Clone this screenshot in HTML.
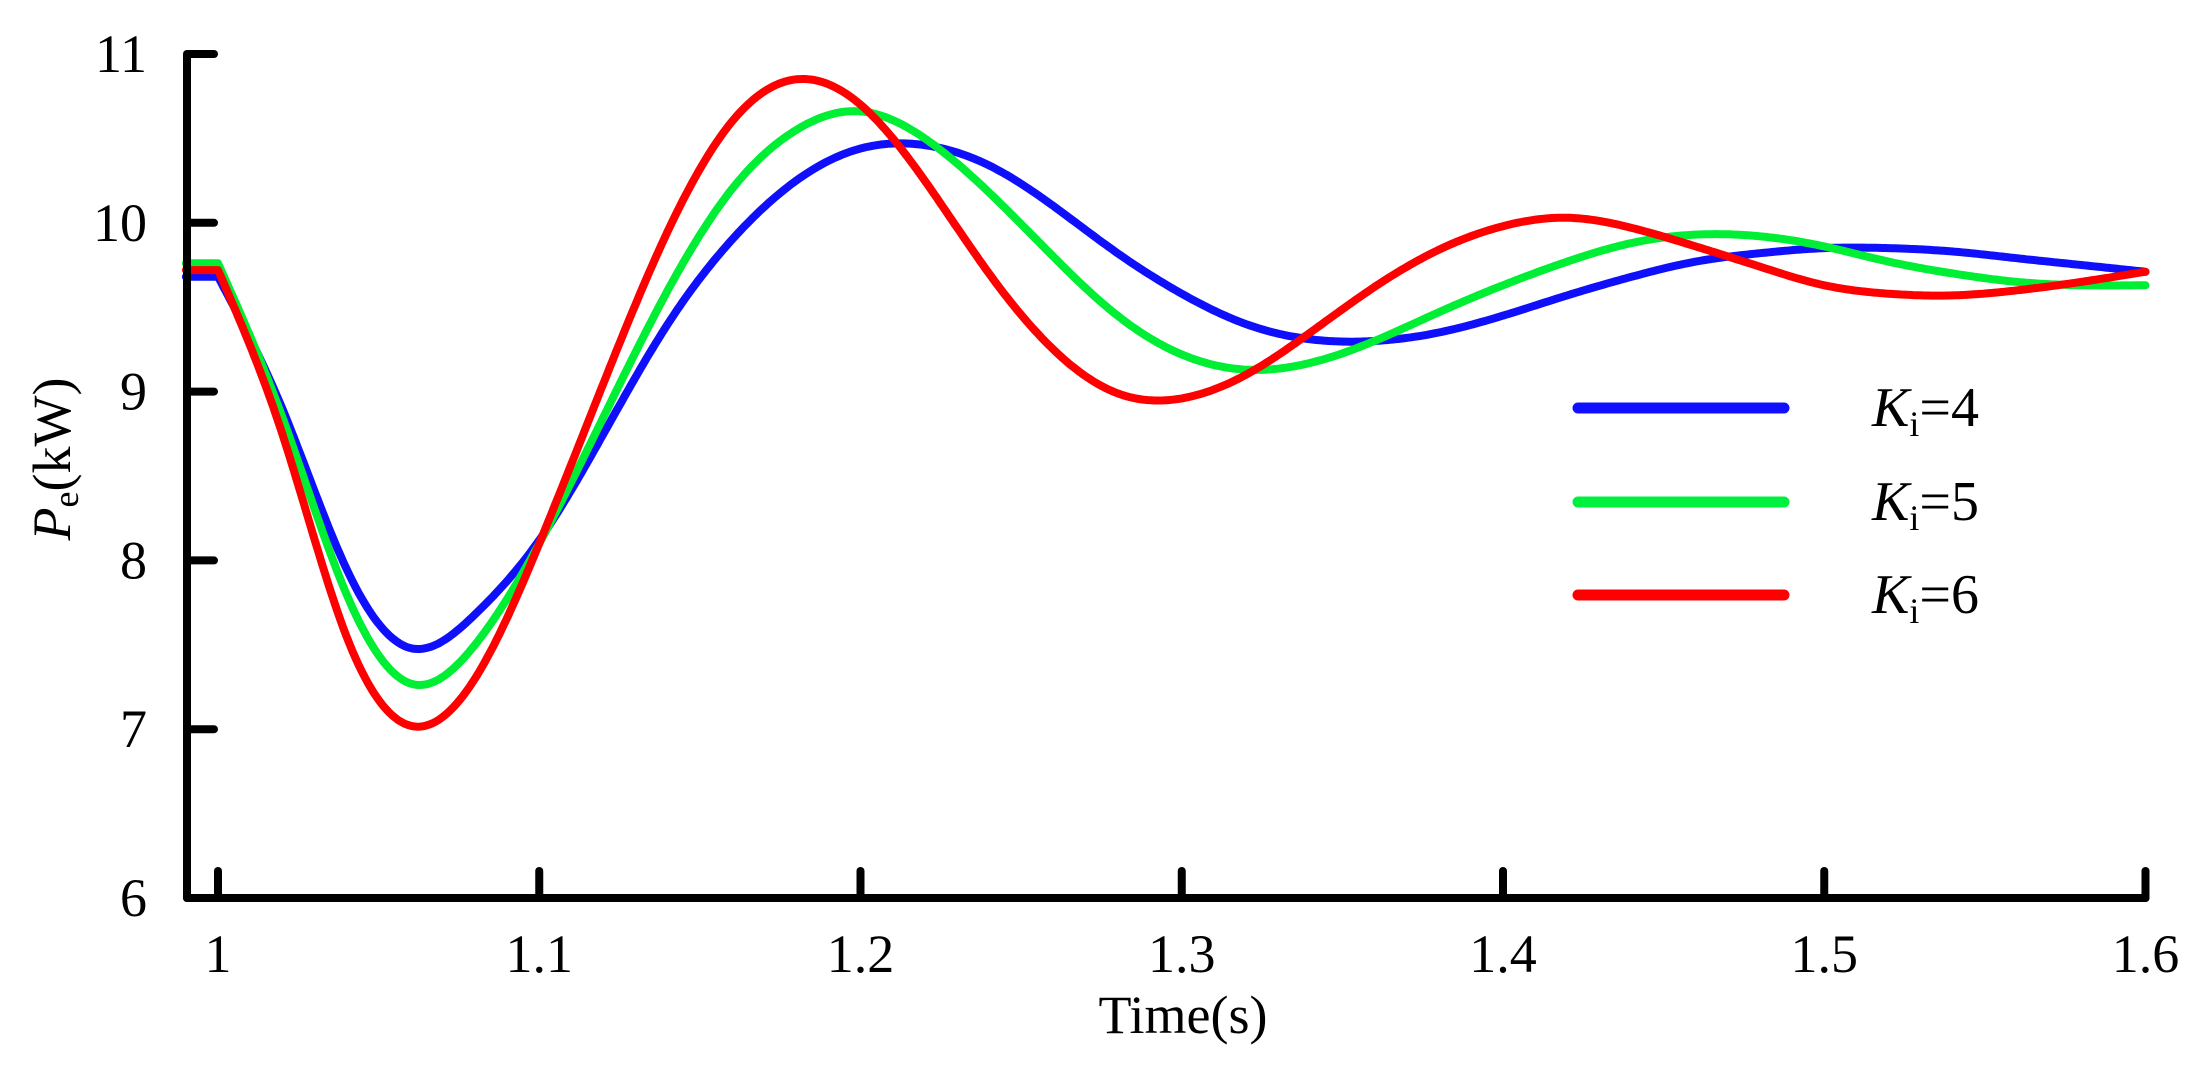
<!DOCTYPE html>
<html><head><meta charset="utf-8"><style>
html,body{margin:0;padding:0;background:#fff}
svg{display:block}
text{font-family:"Liberation Serif",serif;fill:#000}
</style></head><body>
<svg id="chart" width="2201" height="1065" viewBox="0 0 2201 1065" xmlns="http://www.w3.org/2000/svg">
<g id="series"></g>
<g id="axes"></g>
<g id="legend"></g>
</svg>
<script>
const xTicks = [1, 1.1, 1.2, 1.3, 1.4, 1.5, 1.6];
const xTickLabels = ["1", "1.1", "1.2", "1.3", "1.4", "1.5", "1.6"];
const yTicks = [6, 7, 8, 9, 10, 11];
const yTickLabels = ["6", "7", "8", "9", "10", "11"];
const seriesNames = ["4", "5", "6"];
const tBlue = [0.99,1.0,1.02,1.04,1.06,1.08,1.10,1.12,1.14,1.16,1.18,1.20,1.22,1.24,1.26,1.28,1.30,1.32,1.34,1.36,1.38,1.40,1.42,1.44,1.46,1.48,1.50,1.52,1.54,1.56,1.58,1.60];
const vBlue = [9.68,9.68,8.9,7.95,7.48,7.68,8.12,8.75,9.4,9.9,10.25,10.44,10.46,10.34,10.1,9.82,9.58,9.4,9.31,9.3,9.35,9.45,9.57,9.68,9.77,9.82,9.85,9.85,9.83,9.79,9.75,9.71];
const tGreen = [0.99,1.0,1.02,1.04,1.06,1.08,1.10,1.12,1.14,1.16,1.18,1.20,1.22,1.24,1.26,1.28,1.30,1.32,1.34,1.36,1.38,1.40,1.42,1.44,1.46,1.48,1.50,1.52,1.54,1.56,1.58,1.60];
const vGreen = [9.76,9.76,8.85,7.8,7.27,7.5,8.1,8.85,9.6,10.2,10.55,10.66,10.5,10.18,9.8,9.45,9.22,9.13,9.17,9.3,9.47,9.63,9.77,9.88,9.93,9.92,9.86,9.77,9.7,9.65,9.63,9.63];
const tRed = [0.99,1.0,1.02,1.04,1.06,1.08,1.10,1.12,1.14,1.16,1.18,1.20,1.22,1.24,1.26,1.28,1.30,1.32,1.34,1.36,1.38,1.40,1.42,1.44,1.46,1.48,1.50,1.52,1.54,1.56,1.58,1.60];
const vRed = [9.72,9.72,8.75,7.55,7.02,7.3,8.1,9.05,9.95,10.6,10.85,10.7,10.25,9.7,9.25,8.99,8.96,9.1,9.35,9.62,9.84,9.98,10.03,9.97,9.86,9.74,9.63,9.58,9.57,9.6,9.65,9.71];

const NS = "http://www.w3.org/2000/svg";
const X0 = 218, XPER = 3212.5, Y0 = 898, YPER = 168.8;
function xs(t){ return X0 + (t - 1) * XPER; }
function ys(v){ return Y0 - (v - 6) * YPER; }
function mk(tag, attrs, parent){
  const e = document.createElementNS(NS, tag);
  for (const k in attrs) e.setAttribute(k, attrs[k]);
  parent.appendChild(e); return e;
}
// natural cubic spline from index 1 onward; straight segment before
function pathFor(ts0, vs0){
  const ts = ts0.slice(1), vs = vs0.slice(1), n = ts.length;
  const h = [], a = [], l = [1], mu = [0], z = [0], c = new Array(n).fill(0);
  for (let i = 0; i < n-1; i++) h.push(ts[i+1]-ts[i]);
  for (let i = 1; i < n-1; i++) a[i] = 3/h[i]*(vs[i+1]-vs[i]) - 3/h[i-1]*(vs[i]-vs[i-1]);
  for (let i = 1; i < n-1; i++){
    l[i] = 2*(ts[i+1]-ts[i-1]) - h[i-1]*mu[i-1];
    mu[i] = h[i]/l[i];
    z[i] = (a[i]-h[i-1]*z[i-1])/l[i];
  }
  const b = [], d = [];
  for (let j = n-2; j >= 0; j--){
    c[j] = (j>0 ? z[j]-mu[j]*c[j+1] : 0);
    b[j] = (vs[j+1]-vs[j])/h[j] - h[j]*(c[j+1]+2*c[j])/3;
    d[j] = (c[j+1]-c[j])/(3*h[j]);
  }
  let s = "M" + xs(ts0[0]).toFixed(1) + "," + ys(vs0[0]).toFixed(1);
  s += " L" + xs(ts[0]).toFixed(1) + "," + ys(vs[0]).toFixed(1);
  for (let j = 0; j < n-1; j++){
    const steps = Math.max(4, Math.round(h[j]*XPER/3));
    for (let k = 1; k <= steps; k++){
      const dt = h[j]*k/steps;
      const v = vs[j] + b[j]*dt + c[j]*dt*dt + d[j]*dt*dt*dt;
      s += " L" + xs(ts[j]+dt).toFixed(1) + "," + ys(v).toFixed(1);
    }
  }
  return s;
}
const sg = document.getElementById("series");
const series = [[tBlue, vBlue, "#0f0ffb", "line-ki-4"], [tGreen, vGreen, "#00ee33", "line-ki-5"], [tRed, vRed, "#ff0000", "line-ki-6"]];
series.forEach(s => {
  const el = mk("path", {d: pathFor(s[0], s[1]), fill: "none", stroke: s[2], "stroke-width": 8, "stroke-linejoin": "round", "stroke-linecap": "round"}, sg);
  
  
});

const ax = document.getElementById("axes");
const axisLine = mk("path", {d: "M" + xs(1.6) + "," + (Y0-28) + " L" + xs(1.6) + "," + Y0 + " L187," + Y0 + " L187,54", fill: "none", stroke: "#000", "stroke-width": 8, "stroke-linejoin": "round"}, ax);


xTicks.forEach((t, i) => {
  const tk = mk("line", {x1: xs(t), x2: xs(t), y1: Y0, y2: Y0 - 27, stroke: "#000", "stroke-width": 8, "stroke-linecap": "round"}, ax);
  
  
  const tx = mk("text", {x: xs(t), y: 972, "font-size": 54, "text-anchor": "middle"}, ax);
  tx.textContent = xTickLabels[i];
  
  
});
yTicks.forEach((v, i) => {
  const tk = mk("line", {x1: 187, x2: 214, y1: ys(v), y2: ys(v), stroke: "#000", "stroke-width": 8, "stroke-linecap": "round"}, ax);
  
  
  const tx = mk("text", {x: 147, y: ys(v) + 18, "font-size": 54, "text-anchor": "end"}, ax);
  tx.textContent = yTickLabels[i];
  
  
});
const xt = mk("text", {x: 1183, y: 1033, "font-size": 54, "text-anchor": "middle"}, ax);
xt.textContent = "Time(s)";


const yt = mk("text", {x: 0, y: 0, "font-size": 54, "text-anchor": "middle", transform: "translate(70,459) rotate(-90)"}, ax);


const ytp = mk("tspan", {"font-style": "italic"}, yt); ytp.textContent = "P";
const yts = mk("tspan", {"font-size": 36, dy: 8}, yt); yts.textContent = "e";
const ytr = mk("tspan", {dy: -8}, yt); ytr.textContent = "(kW)";

const lg = document.getElementById("legend");
const legColors = ["#1010ff", "#00f040", "#ff0000"];
const legY = [408, 502, 595];
seriesNames.forEach((n, i) => {
  const ln = mk("line", {x1: 1578, x2: 1784, y1: legY[i], y2: legY[i], stroke: legColors[i], "stroke-width": 11, "stroke-linecap": "round"}, lg);
  
  
  const tx = mk("text", {x: 1872, y: legY[i] + 18, "font-size": 56}, lg);
  
  
  const k = mk("tspan", {"font-style": "italic"}, tx); k.textContent = "K";
  const s = mk("tspan", {"font-size": 36, dy: 10}, tx); s.textContent = "i";
  const r = mk("tspan", {dy: -10}, tx); r.textContent = "=" + n;
});
</script>
</body></html>
